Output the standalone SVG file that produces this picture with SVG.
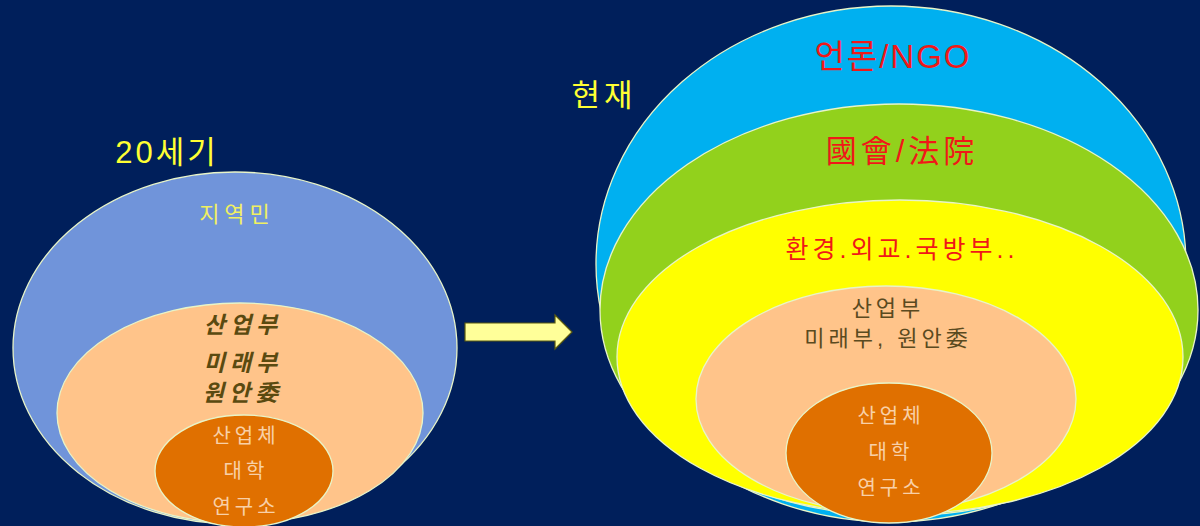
<svg xmlns="http://www.w3.org/2000/svg" width="1200" height="526" viewBox="0 0 1200 526">
<style>
.e{stroke:#E8F4C8;stroke-width:1.3}
.t{font-family:"Liberation Sans","Noto Sans CJK KR",sans-serif;text-anchor:middle}
.ye{fill:#FFFF33}
.red{fill:#F01818}
.ol{fill:#5A4A10}
.lp{fill:#F8D0A8}
.s{letter-spacing:4px}
</style>
<rect width="1200" height="526" fill="#001F5B"/>
<text class="t ye" x="167" y="163" font-size="31" letter-spacing="3">20세기</text>
<text class="t ye" x="604" y="106" font-size="31" letter-spacing="4">현재</text>
<g id="left">
<g id="l-outer"><ellipse class="e" cx="235" cy="348" rx="222" ry="176" fill="#7094DA"/><text class="t" x="237" y="222" font-size="22" letter-spacing="5" fill="#F0F060">지역민</text></g>
<g id="l-mid"><ellipse class="e" cx="240" cy="413" rx="183" ry="110" fill="#FFC48A"/>
<text class="t ol" x="243" y="333" font-size="23" letter-spacing="5" font-weight="bold" font-style="italic">산업부</text>
<text class="t ol" x="243" y="371" font-size="23" letter-spacing="5" font-weight="bold" font-style="italic">미래부</text>
<text class="t ol" x="243" y="401" font-size="23" letter-spacing="5" font-weight="bold" font-style="italic">원안委</text></g>
<g id="l-inner"><ellipse class="e" cx="244" cy="471" rx="89" ry="56" fill="#E07000"/>
<text class="t lp s" x="246" y="443" font-size="20">산업체</text>
<text class="t lp s" x="246" y="478" font-size="20">대학</text>
<text class="t lp s" x="246" y="514" font-size="20">연구소</text></g>
</g>
<g id="connectors">
<path d="M465,323 H555 V315 L572,332 L555,349 V341 H465 Z" fill="#FFFF99" stroke="#5A5A10" stroke-width="1.2"/>
</g>
<g id="right">
<g id="r-blue"><ellipse class="e" cx="891" cy="264" rx="295" ry="258" fill="#00B0F0"/>
<text class="t red" x="893" y="68" font-size="33" letter-spacing="2">언론/NGO</text></g>
<g id="r-green"><ellipse class="e" cx="899" cy="310" rx="299" ry="206" fill="#92D11C"/>
<text class="t red" x="902" y="162" font-size="31" letter-spacing="4">國會/法院</text></g>
<g id="r-yellow"><ellipse class="e" cx="900" cy="357" rx="283" ry="157" fill="#FFFF00"/>
<text class="t red" x="902" y="258" font-size="25" letter-spacing="4">환경.외교.국방부..</text></g>
<g id="r-peach"><ellipse class="e" cx="886" cy="399" rx="190" ry="113" fill="#FFC48A"/>
<text class="t s" fill="#5A4A20" x="888" y="316" font-size="22">산업부</text>
<text class="t s" fill="#5A4A20" x="888" y="346" font-size="22">미래부, 원안委</text></g>
<g id="r-inner"><ellipse class="e" cx="889" cy="453" rx="103" ry="70" fill="#E07000"/>
<text class="t lp s" x="891" y="423" font-size="20">산업체</text>
<text class="t lp s" x="891" y="459" font-size="20">대학</text>
<text class="t lp s" x="891" y="495" font-size="20">연구소</text></g>
</g>
</svg>
